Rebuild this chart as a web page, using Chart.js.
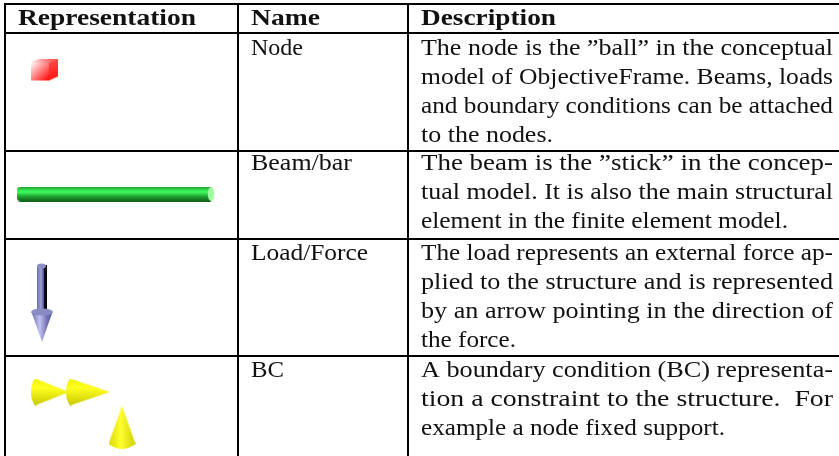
<!DOCTYPE html>
<html><head><meta charset="utf-8">
<style>html,body{margin:0;padding:0;background:#fff}canvas{display:block}</style>
<script src="https://cdn.jsdelivr.net/npm/chart.js@4"></script>
</head><body><canvas id="c" width="839" height="456"></canvas>
<script>
const headers = ["Representation", "Name", "Description"];
const names = ["Node", "Beam/bar", "Load/Force", "BC"];
const descriptions = [
  ["The node is the \u201dball\u201d in the conceptual", "model of ObjectiveFrame. Beams, loads", "and boundary conditions can be attached", "to the nodes."],
  ["The beam is the \u201dstick\u201d in the concep-", "tual model. It is also the main structural", "element in the finite element model."],
  ["The load represents an external force ap-", "plied to the structure and is represented", "by an arrow pointing in the direction of", "the force."],
  ["A boundary condition (BC) representa-", "tion a constraint to the structure.  For", "example a node fixed support."]
];
const columnRules = [5, 237.5, 408];
const rowRules = [4, 33, 151, 239, 356];
const headerBaseline = 25;
const headerSpan = [[18,196],[251,320],[421,556]];
const nameX = 251;
const nameEnds = [303, 352, 368, 284];
const descX = 421;
const rowBaselines = [[55,84,113,142],[170,199,228],[260,289,318,347],[377,406,435]];
const descEnds = [[833,833,833,553],[833,833,788],[833,833,833,516],[833,833,725]];
const iconX = [45, 116, 42, 50, 88, 122];
const iconY = [70, 194, 303, 392, 392, 428];

function mk(w,h,fn){const c=document.createElement('canvas');c.width=w;c.height=h;fn(c.getContext('2d'));return c;}
function lin(g,x0,y0,x1,y1,st){const l=g.createLinearGradient(x0,y0,x1,y1);st.forEach(s=>l.addColorStop(s[0],s[1]));return l;}
const cube=mk(28,23,g=>{
  g.fillStyle=lin(g,0,4,18,22,[[0,'#ffffff'],[1,'#ff0000']]);g.fillRect(0,4,18,18);
  g.fillStyle=lin(g,0,0,27,4,[[0,'#ffe8e8'],[1,'#ff3030']]);g.beginPath();g.moveTo(0,4);g.lineTo(9,0);g.lineTo(27,0);g.lineTo(18,4);g.closePath();g.fill();
  g.fillStyle=lin(g,18,0,27,22,[[0,'#ff5050'],[1,'#ff1010']]);g.beginPath();g.moveTo(18,4);g.lineTo(27,0);g.lineTo(27,18);g.lineTo(18,22);g.closePath();g.fill();
});
const beam=mk(198,15,g=>{
  g.fillStyle=lin(g,0,0,0,15,[[0,'#1c9a2c'],[.35,'#40ff60'],[.7,'#1e9a2e'],[1,'#0f5f1a']]);
  g.beginPath();g.moveTo(4,0);g.lineTo(194,0);g.lineTo(194,15);g.lineTo(4,15);g.quadraticCurveTo(0,15,0,11);g.lineTo(0,4);g.quadraticCurveTo(0,0,4,0);g.fill();
  g.fillStyle='#a0ffa0';g.beginPath();g.ellipse(194,7.5,3.2,7,0,0,7);g.fill();
});
const arrow=mk(22,80,g=>{
  g.fillStyle=lin(g,6,0,16,0,[[0,'#6c6ca8'],[.4,'#a0a0d8'],[.65,'#5858a0'],[.72,'#101020'],[1,'#000']]);
  g.fillRect(6,2,10,48);
  g.fillStyle='#9090c8';g.beginPath();g.ellipse(10.5,3,4.5,2.5,0,0,7);g.fill();
  g.fillStyle=lin(g,0,0,22,0,[[0,'#6868a8'],[.4,'#c0c0f0'],[.7,'#7878b8'],[1,'#50508c']]);
  g.beginPath();g.moveTo(.5,49);g.lineTo(21.5,49);g.lineTo(11,79);g.closePath();g.fill();
  g.fillStyle='#8a8ac4';g.beginPath();g.ellipse(11,49,11,3.5,0,0,7);g.fill();
});
function coneH(len){return mk(len,27,g=>{
  g.fillStyle=lin(g,0,0,0,27,[[0,'#f0f000'],[.35,'#ffff20'],[1,'#c8c800']]);
  g.beginPath();g.moveTo(len,13.5);g.lineTo(4,0);g.quadraticCurveTo(0,5,0,13.5);g.quadraticCurveTo(0,22,4,27);g.closePath();g.fill();
});}
const cone1=coneH(38), cone2=coneH(44);
const coneV=mk(27,44,g=>{
  g.fillStyle=lin(g,0,0,27,0,[[0,'#d8d800'],[.45,'#ffff30'],[1,'#d0d000']]);
  g.beginPath();g.moveTo(13.5,0);g.lineTo(27,38);g.quadraticCurveTo(13.5,48,0,38);g.closePath();g.fill();
});
const icons=[cube,beam,arrow,cone1,cone2,coneV];

const tableText={id:'tableText',afterDatasetsDraw(ch){
  const g=ch.ctx,X=ch.scales.x,Y=ch.scales.y;
  const put=(s,x0,x1,y,font)=>{
    g.save();g.font=font;g.fillStyle='#111';g.textBaseline='alphabetic';g.textAlign='left';
    const px0=X.getPixelForValue(x0),px1=X.getPixelForValue(x1),m=g.measureText(s).width;
    g.translate(px0,Y.getPixelForValue(y));g.scale((px1-px0)/m,1);g.fillText(s,0,0);g.restore();
  };
  const reg='23px "Liberation Serif"',bold='bold 23px "Liberation Serif"';
  headers.forEach((h,i)=>put(h,headerSpan[i][0],headerSpan[i][1],headerBaseline,bold));
  names.forEach((n,i)=>put(n,nameX,nameEnds[i],rowBaselines[i][0],reg));
  descriptions.forEach((r,i)=>r.forEach((l,j)=>put(l,descX,descEnds[i][j],rowBaselines[i][j],reg)));
}};
const axisCommon=(vals,min,max,rev)=>({type:'linear',min,max,reverse:rev,
  afterBuildTicks:s=>{s.ticks=vals.map(v=>({value:v}));},
  afterFit:s=>{if(s.isHorizontal())s.height=0;else s.width=0;},
  ticks:{display:false,autoSkip:false},border:{display:false},
  grid:{color:'#000',lineWidth:2,drawTicks:false}});
new Chart(document.getElementById('c'),{
  type:'scatter',
  data:{datasets:[{data:iconX.map((x,i)=>({x,y:iconY[i]})),pointStyle:icons,pointRadius:1,pointHoverRadius:1,pointBorderWidth:0,showLine:false}]},
  options:{responsive:false,animation:false,
    layout:{autoPadding:false,padding:{left:4,top:3,right:0,bottom:0}},
    plugins:{legend:{display:false},tooltip:{enabled:false},title:{display:false}},
    scales:{x:axisCommon(columnRules,4,839,false),y:axisCommon(rowRules,3,456,true)}},
  plugins:[tableText]
});
</script></body></html>
